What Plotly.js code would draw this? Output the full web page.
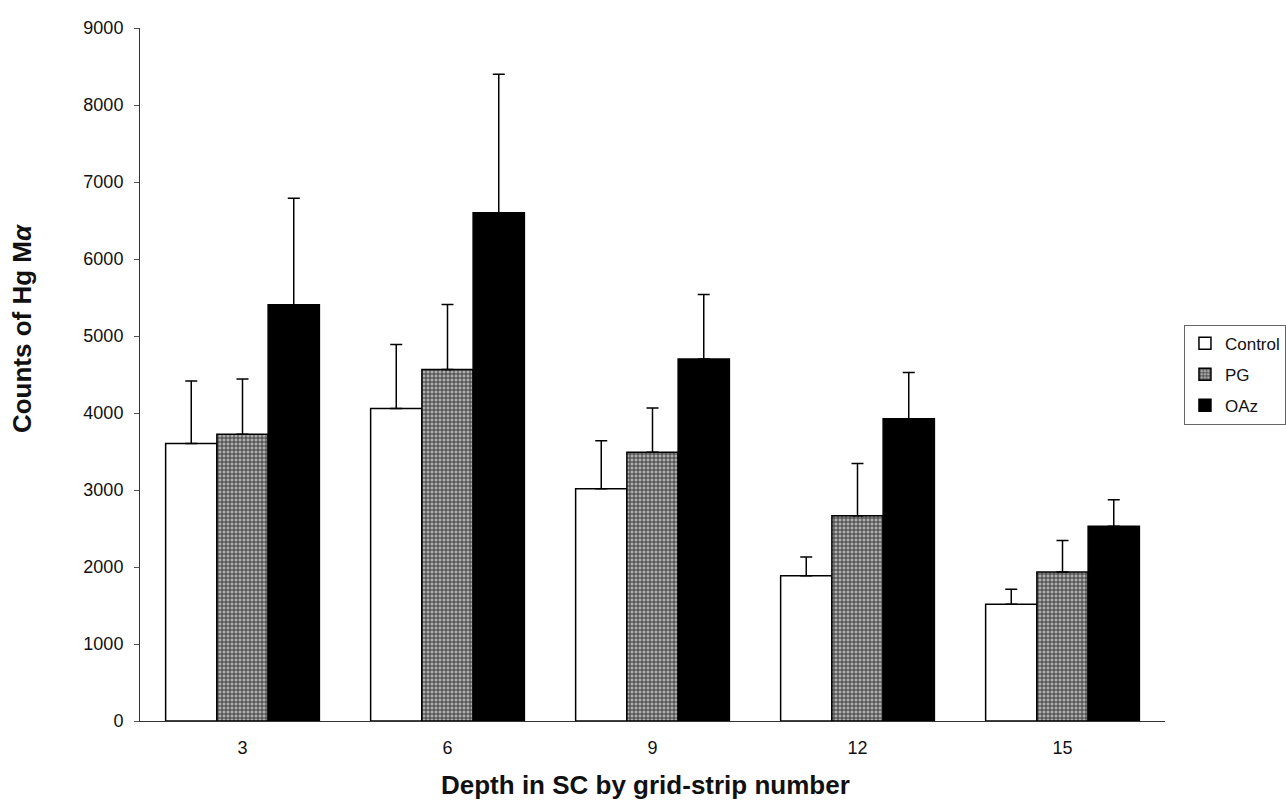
<!DOCTYPE html>
<html>
<head>
<meta charset="utf-8">
<script src="https://cdn.plot.ly/plotly-3.0.1.min.js"></script>
<style>body{margin:0;background:#fff;} #chart{width:1286px;height:803px;}</style>
</head>
<body>
<div id="chart"></div>
<script>
const categories = ['3', '6', '9', '12', '15'];
const controlMean = [3605, 4060, 3015, 1885, 1515];
const controlErr  = [812, 830, 625, 245, 195];
const pgMean      = [3725, 4565, 3490, 2665, 1935];
const pgErr       = [715, 845, 575, 680, 410];
const oazMean     = [5405, 6600, 4700, 3925, 2530];
const oazErr      = [1385, 1800, 840, 600, 345];
const yTicks      = [0, 1000, 2000, 3000, 4000, 5000, 6000, 7000, 8000, 9000];
const xTitle = 'Depth in SC by grid-strip number';
const yTitle = 'Counts of Hg M<i>α</i>';

function errSpec(arr) {
  return {type: 'data', symmetric: false, array: arr, arrayminus: arr.map(() => 0),
          color: '#000', thickness: 1.5, width: 6};
}
const line = {color: '#000', width: 1.5};
const traces = [
  {type: 'bar', name: 'Control', legendgroup: 'a', x: categories, y: controlMean, error_y: errSpec(controlErr),
   marker: {color: '#ffffff', line: line}},
  {type: 'bar', name: 'PG', legendgroup: 'b', x: categories, y: pgMean, error_y: errSpec(pgErr),
   marker: {color: '#a0a0a0', line: line,
            pattern: {shape: '+', fgcolor: '#333333', bgcolor: '#adadad', size: 4, solidity: 0.4}}},
  {type: 'bar', name: 'OAz', legendgroup: 'c', x: categories, y: oazMean, error_y: errSpec(oazErr),
   marker: {color: '#000000', line: line}}
];
const font = 'Liberation Sans, Arial, sans-serif';
const layout = {
  width: 1286, height: 803,
  margin: {l: 140, r: 121, t: 28, b: 82, autoexpand: false},
  paper_bgcolor: '#fff', plot_bgcolor: '#fff',
  font: {family: font, size: 17, color: '#111'},
  barmode: 'group', bargap: 0.25, bargroupgap: 0,
  showlegend: true,
  legend: {x: 1.0185, xanchor: 'left', y: 0.572, yanchor: 'top',
           bordercolor: '#666', borderwidth: 1, bgcolor: '#fff', traceorder: 'grouped',
           font: {family: font, size: 17, color: '#111'}, tracegroupgap: 6, itemwidth: 30},
  xaxis: {type: 'category', range: [-0.5, 4.5], showline: true, linecolor: '#333', linewidth: 1,
          ticks: '', showgrid: false, zeroline: false, ticklabelstandoff: 10,
          tickfont: {family: font, size: 18, color: '#111'}},
  yaxis: {range: [0, 9000], tickvals: yTicks, showline: true, linecolor: '#333', linewidth: 1,
          ticks: 'outside', ticklen: 5, tickcolor: '#555', showgrid: false, zeroline: false,
          ticklabelstandoff: 7,
          tickfont: {family: font, size: 18, color: '#111'}},
  annotations: [
    {text: xTitle, xref: 'paper', yref: 'paper', x: 0.4927, y: -0.0924,
     xanchor: 'center', yanchor: 'middle', showarrow: false,
     font: {family: font, size: 26, color: '#111', weight: 'bold'}},
    {text: yTitle, xref: 'paper', yref: 'paper', x: -0.1151, y: 0.567, textangle: -90,
     xanchor: 'center', yanchor: 'middle', showarrow: false,
     font: {family: font, size: 26, color: '#111', weight: 'bold'}}
  ]
};
Plotly.newPlot('chart', traces, layout, {displayModeBar: false, staticPlot: true});
</script>
</body>
</html>
